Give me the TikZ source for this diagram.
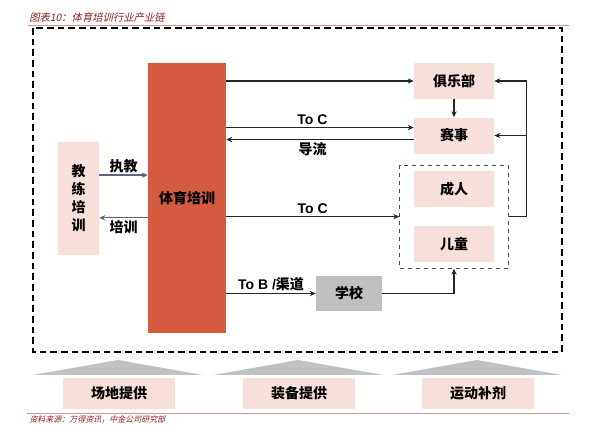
\documentclass[tikz,border=0pt]{standalone}
\usepackage{fontspec}
\setmainfont{Liberation Sans}
\newfontfamily\cjk{Noto Sans CJK SC}
\newfontfamily\cjkit{Noto Sans CJK SC}[FakeSlant=0.22]
\usetikzlibrary{arrows.meta,positioning,fit}
\usepackage{xcolor}
\definecolor{trainred}{RGB}{212,90,64}
\definecolor{boxpink}{RGB}{248,224,218}
\definecolor{schoolgray}{RGB}{191,191,191}
\definecolor{roofgray}{RGB}{192,193,195}
\definecolor{titlered}{RGB}{140,30,30}
\definecolor{rulered}{RGB}{200,150,150}
\definecolor{coachblue}{RGB}{90,100,135}

\begin{document}
\begin{tikzpicture}[
  x=0.75pt, y=-0.75pt,
  >={Stealth[length=4.5pt,width=4pt]},
  cjkfont/.style={font=\cjk\bfseries\fontsize{10.5}{13.5}\selectfont},
  trainnode/.style={rectangle, fill=trainred, minimum width=58.5pt,
                    minimum height=202.5pt, inner sep=0pt, cjkfont},
  pinknode/.style={rectangle, fill=boxpink, minimum width=60pt,
                   minimum height=27pt, inner sep=0pt, cjkfont},
  schoolnode/.style={rectangle, fill=schoolgray, minimum width=49.5pt,
                     minimum height=26.25pt, inner sep=0pt, cjkfont},
  groupbox/.style={draw=black!70, dashed, line width=0.75pt,
                   inner xsep=10.5pt, inner ysep=4.5pt},
  flow/.style={->, line width=1pt, black!85},
  coachflow/.style={->, line width=1pt, coachblue},
  lbl/.style={inner sep=1.5pt, text=black, font=\bfseries\fontsize{10.5}{12}\selectfont},
  cjklbl/.style={inner sep=1.5pt, text=black, cjkfont},
  frame/.style={line width=1.4pt, dash pattern=on 5pt off 3pt}
]
\useasboundingbox (0,0) rectangle (600,438);

% Title and rules
\node[anchor=west, inner sep=0pt, text=titlered,
      font=\cjkit\fontsize{7.75}{9}\selectfont] (title) at (29,18)
  {图表10：体育培训行业产业链};
\draw[rulered, line width=0.75pt] (28,25.5) -- (569,25.5);
\draw[frame] (33,28) rectangle (562,352);

% Main nodes
\node[trainnode] (train) at (187,198) {体育培训};
\node[pinknode, minimum width=30.75pt, minimum height=84.75pt, align=center]
  (coach) at (78.5,198.5) {教\\练\\培\\训};

% Right column
\node[pinknode] (club) at (454,81) {俱乐部};
\node[pinknode, below=13.5pt of club] (match) {赛事};
\node[pinknode, below=13pt of match] (adult) {成人};
\node[pinknode, below=13.5pt of adult] (child) {儿童};
\node[groupbox, fit=(adult)(child)] (crowd) {};

% School
\node[schoolnode] (school) at (349,293.5) {学校};

% Coach arrows
\coordinate (teach) at ([yshift=17.5pt]coach.east);
\coordinate (learn) at ([yshift=-14.5pt]coach.east);
\draw[coachflow] (teach) -- node[above, cjklbl] {执教} (teach -| train.west);
\draw[coachflow] (learn -| train.west) -- node[below, cjklbl] {培训} (learn);

% Training to clubs and matches
\draw[flow] (train.east |- club.west) -- (club.west);
\draw[flow] (club) -- (match);
\coordinate (tocin) at ([yshift=6pt]match.west);
\coordinate (guide) at ([yshift=-3pt]match.west);
\draw[flow] (train.east |- tocin) -- node[above, lbl, pos=0.46] {To C} (tocin);
\draw[flow] (guide) -- node[below, cjklbl, pos=0.54] {导流} (train.east |- guide);

% Training to consumers
\draw[flow] (train.east |- crowd.west) -- node[above, lbl] {To C} (crowd.west);
\coordinate (back) at ([xshift=13.5pt]crowd.east);
\draw[flow] (crowd.east) -- (back) |- (club.east);
\draw[flow] (back |- match.east) -- (match.east);

% School channel
\draw[flow] (train.east |- school.west) -- node[above, lbl]
  {To B /{\cjk 渠道}} (school.west);
\draw[flow] (school.east) -| (child.south |- crowd.south);

% Supporting services
\foreach \cx/\txt [count=\i] in {118/场地提供, 298/装备提供, 477/运动补剂} {
  \fill[roofgray] (\cx-85,375) -- (\cx,360) -- (\cx+85,375) -- cycle;
  \node[pinknode, minimum width=84pt, minimum height=23.25pt]
    (base\i) at (\cx+1,393.5) {\txt};
}
\draw[rulered, line width=0.75pt] (27,413) -- (569,413);

% Source
\node[anchor=west, inner sep=0pt, text=titlered,
      font=\cjkit\fontsize{6}{7}\selectfont] (source) at (29,420)
  {资料来源：万得资讯，中金公司研究部};
\end{tikzpicture}
\end{document}
